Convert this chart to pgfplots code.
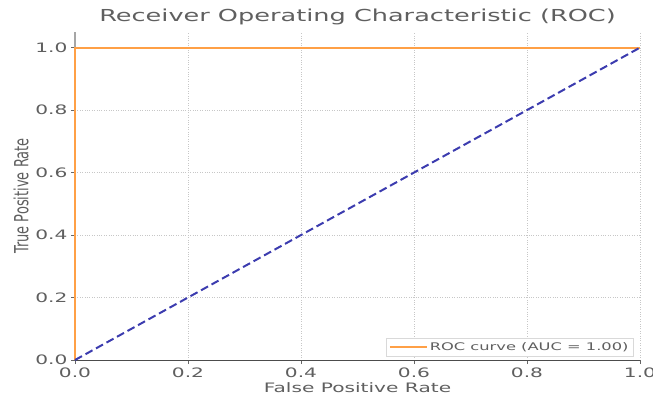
\documentclass[border=0pt]{standalone}
\usepackage{pgfplots}
\pgfplotsset{compat=1.18}
\usepackage{fontspec}
\setmainfont{DejaVu Sans}
\newfontfamily\wfont[FakeStretch=1.55]{DejaVu Sans}
\definecolor{roc}{RGB}{255,160,70}
\definecolor{diag}{RGB}{60,60,175}
\definecolor{txt}{RGB}{95,95,95}
\begin{document}
\begin{tikzpicture}
\useasboundingbox (-75pt,-39pt) rectangle (578pt,360pt);
\begin{axis}[
  at={(0,0)}, anchor=south west,
  scale only axis, width=565pt, height=328pt,
  xmin=0, xmax=1, ymin=0, ymax=1.05,
  xtick={0,0.2,0.4,0.6,0.8,1.0},
  ytick={0,0.2,0.4,0.6,0.8,1.0},
  xticklabel style={/pgf/number format/fixed,/pgf/number format/fixed zerofill,/pgf/number format/precision=1},
  yticklabel style={/pgf/number format/fixed,/pgf/number format/fixed zerofill,/pgf/number format/precision=1},
  /pgf/number format/assume math mode=true,
  tick label style={font=\wfont\fontsize{13}{15}\selectfont, text=txt},
  tick align=outside, tick pos=left,
  major tick length=4pt,
  every tick/.style={black!60, line width=0.8pt},
  grid=major,
  grid style={dotted, black!22, line width=0.6pt},
  axis line style={black!70},
  axis x line*=bottom,
  axis y line*=left,
  y axis line style={black!35, line width=1.5pt},
  title={Receiver Operating Characteristic (ROC)},
  title style={font=\wfont\fontsize{16.5}{18}\selectfont, text=txt, at={(0.5,1)}, yshift=-2pt},
  xlabel={False Positive Rate},
  ylabel={\scalebox{1}[1.5]{True Positive Rate}},
  xlabel style={font=\wfont\fontsize{13}{15}\selectfont, text=txt, yshift=2pt},
  ylabel style={font=\fontsize{13}{15}\selectfont, text=txt, yshift=0pt},
  legend style={at={(0.988,0.01)}, anchor=south east, font=\wfont\fontsize{10.5}{12}\selectfont, text=txt, draw=black!15, fill=white, inner sep=2.5pt, row sep=0pt},
  legend cell align=left,
  legend image post style={line width=2pt},
  legend image code/.code={\draw[#1] (0cm,0cm) -- (1.3cm,0cm);},
  clip=false,
]
\addplot[roc, line width=2pt] coordinates {(0,0) (0,1) (1,1)};
\addlegendentry{ROC curve (AUC = 1.00)}
\addplot[diag, line width=2pt, dash pattern=on 8pt off 4pt, forget plot] coordinates {(0,0) (1,1)};
\end{axis}
\end{tikzpicture}
\end{document}
